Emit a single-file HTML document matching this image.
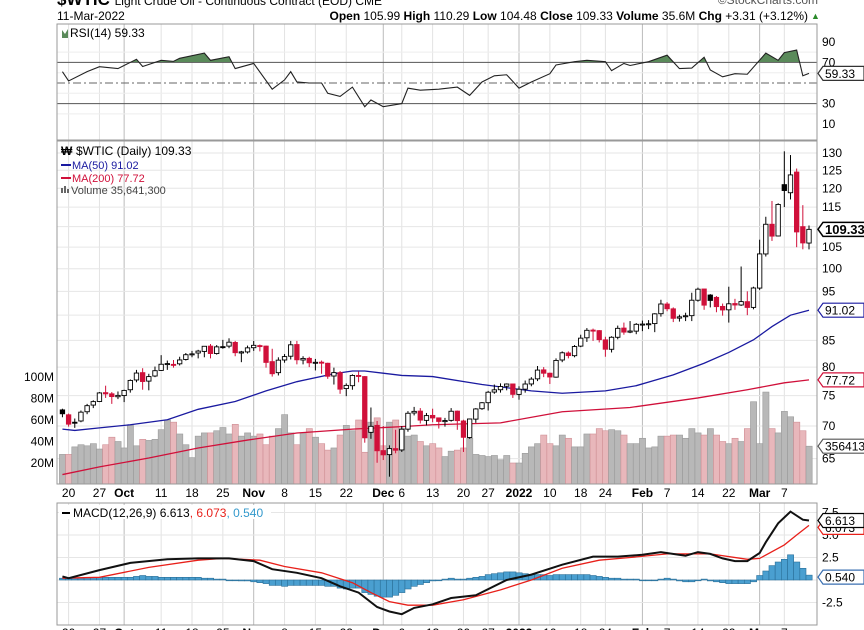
<!DOCTYPE html>
<html><head><meta charset="utf-8"><style>
html,body{margin:0;padding:0;background:#fff;}
svg{display:block;font-family:"Liberation Sans",sans-serif;}
</style></head><body>
<svg id="chart" width="864" height="630" viewBox="0 0 864 630" xmlns="http://www.w3.org/2000/svg">
<defs>
<clipPath id="clipMain"><rect x="57" y="141" width="760" height="343"/></clipPath>
<clipPath id="clipRsi"><rect x="57" y="24" width="760" height="116"/></clipPath>
<clipPath id="clipAbove70"><rect x="57" y="24" width="760" height="38"/></clipPath>
<clipPath id="clipMacd"><rect x="57" y="503" width="760" height="120"/></clipPath>
</defs>
<g id="header">
<text x="57" y="5" font-size="17" font-weight="bold">$WTIC <tspan font-size="12" font-weight="normal">Light Crude Oil - Continuous Contract (EOD) CME</tspan></text>
<text x="818" y="4" font-size="12" fill="#555" text-anchor="end">©StockCharts.com</text>
<text x="57" y="20" font-size="12">11-Mar-2022</text>
<text x="808" y="20" font-size="12" text-anchor="end"><tspan font-weight="bold">Open</tspan> 105.99 <tspan font-weight="bold">High</tspan> 110.29 <tspan font-weight="bold">Low</tspan> 104.48 <tspan font-weight="bold">Close</tspan> 109.33 <tspan font-weight="bold">Volume</tspan> 35.6M <tspan font-weight="bold">Chg</tspan> +3.31 (+3.12%)</text>
<text x="811" y="19" font-size="9" fill="#2a8a2a">▲</text>
</g>
<g id="grid"></g>
<g id="rsiLayer" clip-path="url(#clipRsi)"></g>
<g id="mainLayer" clip-path="url(#clipMain)"></g>
<g id="macdLayer" clip-path="url(#clipMacd)"></g>
<rect x="57" y="24" width="760" height="116" fill="none" stroke="#999"/>
<rect x="57" y="141" width="760" height="343" fill="none" stroke="#999"/>
<rect x="57" y="503" width="760" height="122" fill="none" stroke="#999"/>
<g id="labels"></g>
<g>
<path d="M62 38 L62 30 L65 34 L68 29 L68 38 Z" fill="#5a8a5a"/>
<text x="70" y="37" font-size="12">RSI(14) 59.33</text>
</g>
<g>
<text x="61" y="155" font-size="12" font-weight="bold">₩</text>
<text x="76" y="155" font-size="12">$WTIC (Daily) 109.33</text>
<line x1="61" y1="165" x2="71" y2="165" stroke="#1a1aa0" stroke-width="2"/>
<text x="72" y="169" font-size="11" fill="#1a1aa0">MA(50) 91.02</text>
<line x1="61" y1="178" x2="71" y2="178" stroke="#d0103a" stroke-width="2"/>
<text x="72" y="182" font-size="11" fill="#d0103a">MA(200) 77.72</text>
<rect x="61" y="188" width="2" height="5" fill="#666"/><rect x="64" y="186" width="2" height="7" fill="#666"/><rect x="67" y="189" width="2" height="4" fill="#666"/>
<text x="71" y="194" font-size="11" fill="#444">Volume 35,641,300</text>
</g>
<g>
<rect x="59" y="505" width="212" height="14" fill="#fff"/>
<line x1="62" y1="513" x2="70" y2="513" stroke="#000" stroke-width="2"/>
<text x="73" y="517" font-size="12">MACD(12,26,9) 6.613<tspan fill="#e8201a">, 6.073</tspan><tspan fill="#3399cc">, 0.540</tspan></text>
</g>
</svg>
<script>
// ---- data (index 0 = 17-Sep-2021 ... 121 = 11-Mar-2022) ----
const opens=[72.6,71.8,70.6,70.8,72.3,73.4,74.0,75.5,75.3,74.8,75.0,76.0,77.7,79.0,77.5,78.4,79.4,80.6,80.5,80.6,81.4,82.3,82.6,82.9,83.9,82.5,83.8,83.9,84.6,82.6,82.8,83.6,84.0,83.9,81.0,79.0,81.3,82.0,84.2,81.3,81.6,80.8,80.9,80.7,78.4,79.0,76.2,76.7,78.5,78.3,69.0,70.1,66.2,65.6,66.5,66.3,69.5,72.1,72.4,70.9,71.7,71.3,70.7,70.9,72.4,70.8,68.2,71.1,72.8,73.8,75.6,76.0,76.6,77.0,75.2,76.1,77.0,77.9,79.5,78.9,78.2,81.3,82.6,82.1,83.9,85.5,87.0,86.9,85.1,83.3,85.6,87.4,86.6,86.8,88.2,88.2,88.3,90.3,92.3,91.3,89.4,89.7,89.9,93.1,95.5,94.2,93.7,91.8,91.1,92.4,92.1,92.8,91.6,95.7,103.4,110.6,107.7,121.0,118.8,124.5,110.0,105.99];
const highs=[72.8,72.0,71.2,72.5,73.6,74.2,75.6,76.7,75.6,75.7,76.0,77.8,79.5,79.8,78.8,80.1,82.2,81.2,81.3,81.9,82.6,83.0,83.2,83.9,84.3,84.1,85.1,85.4,84.9,83.0,84.0,84.9,84.2,84.0,83.4,81.8,82.4,84.9,84.9,82.0,81.9,81.5,81.2,80.8,79.9,79.3,77.1,78.7,79.2,78.4,73.0,70.8,70.0,67.0,69.4,70.0,72.4,73.1,72.9,72.1,72.8,71.3,71.3,72.9,72.5,71.0,71.2,72.9,73.9,75.8,76.9,77.1,77.1,77.0,76.6,77.6,78.2,80.2,80.0,79.0,81.6,82.9,82.9,84.1,86.1,87.4,87.3,87.0,85.7,85.8,87.9,88.5,88.8,88.4,88.9,89.0,90.4,93.2,92.7,91.6,90.1,90.5,94.7,95.8,95.5,94.4,94.0,92.4,96.0,93.4,100.5,95.0,96.0,106.8,112.5,116.6,116.0,130.5,129.4,125.5,115.5,110.29];
const lows=[71.4,69.9,69.7,70.6,71.9,72.9,73.9,74.6,73.6,74.4,73.9,75.5,77.3,76.0,75.9,78.2,79.3,79.5,79.9,80.3,81.2,81.8,81.6,81.8,81.6,82.3,83.4,83.5,82.0,80.9,82.5,83.0,82.9,79.9,78.3,78.5,80.8,81.4,80.5,80.5,80.0,79.4,78.8,77.9,76.9,75.3,74.9,76.0,77.3,67.4,68.0,64.4,64.8,62.4,65.8,66.0,69.1,71.7,70.4,70.1,70.6,69.6,69.9,70.7,69.4,66.0,68.0,70.5,72.6,72.5,75.3,75.5,75.9,74.6,74.3,75.5,76.6,77.5,78.2,77.0,78.1,80.9,81.6,81.8,83.7,84.7,84.9,84.6,81.9,82.7,85.2,86.1,86.4,86.2,86.8,87.2,86.6,89.7,90.8,88.6,88.7,88.8,88.8,92.8,91.1,91.6,90.6,89.9,88.5,91.1,91.9,90.0,91.2,95.3,102.8,106.5,107.6,115.0,117.0,105.0,104.5,104.48];
const closes=[71.97,70.29,70.56,72.23,73.30,73.98,75.45,75.29,74.83,75.03,75.88,77.62,78.93,77.43,78.30,79.35,80.52,80.64,80.44,81.31,82.28,82.44,82.96,83.87,82.50,83.76,83.76,84.65,82.66,82.81,83.57,84.05,83.91,80.86,78.81,81.27,81.93,84.15,81.34,81.59,80.79,80.88,80.76,78.36,79.01,76.10,76.75,78.50,78.39,68.15,69.95,66.18,65.57,66.50,66.26,69.49,72.05,72.36,70.94,71.67,71.29,70.73,70.87,72.38,70.86,68.23,71.12,72.76,73.79,75.57,75.98,76.56,76.99,75.21,76.08,76.99,77.85,79.46,78.90,78.23,81.22,82.64,82.12,83.82,85.43,86.96,86.90,85.14,83.31,85.60,87.35,86.61,86.82,88.15,88.20,88.26,90.27,92.31,91.32,89.36,89.66,89.88,93.10,95.46,92.07,93.06,91.76,91.07,92.35,92.10,92.81,91.59,95.72,103.41,110.60,107.67,115.68,119.40,123.70,108.70,106.02,109.33];
const volumes=[28,28,35,37,36,38,33,37,44,40,34,55,36,42,41,42,51,60,58,47,37,25,45,48,48,50,53,47,56,45,48,45,47,37,45,52,65,48,37,48,52,44,38,32,34,46,55,50,60,30,58,62,36,58,60,52,45,46,40,36,38,34,26,31,32,34,43,28,27,26,27,23,27,20,20,29,35,38,46,38,36,46,43,35,35,47,47,52,50,51,50,46,38,38,43,34,35,45,45,46,46,43,52,48,46,52,46,40,38,43,40,52,77,38,86,52,48,68,63,58,50,35.64];
const ma50Idx=[0,2,6,11,17,22,28,33,38,44,47,49,55,60,68,76,81,88,93,99,104,108,112,115,118,121];
const ma50Vals=[69.5,69.3,69.7,70.2,71.0,72.7,74.0,75.8,77.4,78.8,79.3,79.3,78.5,78.3,76.9,75.8,75.4,75.8,76.7,78.6,80.7,82.7,85.1,87.7,90.0,91.02];
const ma200Idx=[0,6,14,22,30,38,47,55,60,71,81,92,103,111,117,121];
const ma200Vals=[62.7,63.8,65.1,66.6,67.8,68.9,69.5,69.9,70.2,70.5,72.3,73.0,74.6,76.0,77.2,77.72];
const rsiIdx=[0,1,4,6,9,12,13,16,18,19,23,24,27,28,31,34,36,37,38,40,42,43,45,47,49,50,52,55,56,58,61,64,66,68,70,72,74,76,79,80,83,85,88,89,91,92,95,98,100,102,104,105,107,109,111,114,116,117,119,120,121];
const rsiVals=[61,52,61,65.8,64,73,66,72,71,74,79,72,75.5,64,69,44,53,61,51,50,50,40,37,46,27,33.5,27,30,45,43,44,46,38,51,57,58,45,51,59,67.5,70.7,72,70.7,62,69,67,70.7,77,64,64.5,75,62.6,56,59,58.5,79,72,79.5,82,57,59.33];
const macdIdx=[0,1,6,11,17,22,27,31,34,38,42,45,48,51,53,55,57,60,63,67,72,76,81,86,90,94,97,101,103,105,107,109,111,113,114,116,118,120,121];
const macdVals=[0.4,0.2,1.1,1.9,2.3,2.4,2.4,2.1,1.2,0.8,0.2,-0.7,-1.4,-3.0,-3.5,-3.8,-3.1,-2.7,-2.0,-1.7,0.0,0.6,1.7,2.6,2.6,2.8,3.1,2.7,3.1,2.9,2.4,2.1,2.1,3.0,4.2,6.3,7.6,6.7,6.613];
const signalIdx=[0,6,14,22,26,32,36,42,47,50,53,56,60,65,71,76,81,87,92,98,105,111,113,117,119,121];
const signalVals=[0.2,0.3,1.4,2.2,2.4,2.2,1.5,0.8,-0.3,-1.4,-2.4,-2.8,-2.8,-2.2,-1.1,0.0,1.3,2.2,2.5,2.9,2.9,2.3,2.4,3.9,5.0,6.073];
const histVals=[0.2,0.2,0.2,0.2,0.3,0.3,0.3,0.3,0.3,0.3,0.3,0.3,0.4,0.5,0.4,0.4,0.3,0.3,0.3,0.3,0.3,0.3,0.3,0.2,0.2,0.1,0.1,0.0,0.0,-0.1,-0.1,-0.2,-0.3,-0.4,-0.6,-0.6,-0.7,-0.6,-0.6,-0.6,-0.6,-0.6,-0.6,-0.7,-0.7,-0.9,-1.0,-0.9,-0.9,-1.4,-1.6,-1.8,-1.9,-1.9,-1.7,-1.4,-1.0,-0.7,-0.5,-0.3,-0.1,0.0,0.1,0.2,0.1,0.1,0.2,0.3,0.4,0.6,0.7,0.8,0.9,0.9,0.8,0.7,0.6,0.6,0.6,0.5,0.6,0.6,0.6,0.6,0.6,0.6,0.5,0.4,0.3,0.2,0.2,0.1,0.1,0.1,0.0,0.0,0.0,0.1,0.2,0.1,-0.1,-0.2,-0.2,0.0,0.1,-0.1,-0.2,-0.3,-0.4,-0.4,-0.4,-0.4,-0.2,0.5,1.0,1.6,2.0,2.3,2.8,2.0,1.3,0.54];
const tickIdx=[1,6,10,16,21,26,31,36,41,46,52,55,60,65,69,74,79,84,88,94,98,103,108,113,117];
const tickLabels=["20","27","Oct","11","18","25","Nov","8","15","22","Dec","6","13","20","27","2022","10","18","24","Feb","7","14","22","Mar","7"];
const monthTickIdx=[10,31,52,74,94,113];
const priceTicks=[130,125,120,115,105,100,95,85,80,75,70,65];
const priceGrid=[130,125,120,115,110,105,100,95,90,85,80,75,70,65];
const volTicks=[100,80,60,40,20];
const rsiTicks=[90,70,30,10];
const macdTicks=[7.5,5.0,2.5,-2.5];

// ---- axes ----
const LAST=121, XR=809, STEP=6.17;
const xOf=i=>XR-(LAST-i)*STEP;
const LNTOP=Math.log(130);
const yP=v=>153+(LNTOP-Math.log(v))*441;
const yV=v=>484.5-v*1.075;
const yR=v=>83+(50-v)*1.03;
const yM=v=>580-v*9;
const NS="http://www.w3.org/2000/svg";
function mk(tag,attrs,parent){const e=document.createElementNS(NS,tag);for(const k in attrs)e.setAttribute(k,attrs[k]);parent.appendChild(e);return e;}
const grid=document.getElementById('grid'),main=document.getElementById('mainLayer'),rsiL=document.getElementById('rsiLayer'),macdL=document.getElementById('macdLayer'),labels=document.getElementById('labels');

const panels=[[24,140],[141,484],[503,625]];
tickIdx.forEach(i=>{const isM=monthTickIdx.includes(i);panels.forEach(p=>{const l=mk('line',{x1:xOf(i),x2:xOf(i),y1:p[0],y2:p[1],stroke:isM?'#bbb':'#e2e2e2','stroke-width':1},grid);

});});
priceGrid.forEach(v=>{const l=mk('line',{x1:57,x2:817,y1:yP(v),y2:yP(v),stroke:'#e6e6e6'},grid);

});
[80,60,40,20].forEach(v=>{const l=mk('line',{x1:57,x2:817,y1:yR(v),y2:yR(v),stroke:'#eee'},grid);

});
[7.5,5,2.5,0,-2.5].forEach(v=>{const l=mk('line',{x1:57,x2:817,y1:yM(v),y2:yM(v),stroke:'#e6e6e6'},grid);

});

volumes.forEach((v,i)=>{const down=i>0&&closes[i]<closes[i-1];const b=mk('rect',{x:xOf(i)-3,y:yV(v),width:6.17,height:484.5-yV(v),fill:down?'#e8b7bb':'#b8b8b8',stroke:down?'#cf8e94':'#999','stroke-width':0.6},main);

});

function pl(idx,vals,yf,color,name,parent,w){const pts=idx.map((d,k)=>xOf(d)+','+yf(vals[k])).join(' ');const p=mk('polyline',{points:pts,fill:'none',stroke:color,'stroke-width':w||1.3},parent);

return p;}
pl(ma200Idx,ma200Vals,yP,'#d0103a','ma200-line',main);
pl(ma50Idx,ma50Vals,yP,'#1a1aa0','ma50-line',main);

closes.forEach((c,i)=>{const o=opens[i],h=highs[i],l=lows[i];const down=i>0&&c<closes[i-1];const col=down?'#d0103a':'#000';const x=xOf(i);
const w=mk('line',{x1:x,x2:x,y1:yP(h),y2:yP(l),stroke:col,'stroke-width':1},main);


const top=yP(Math.max(o,c)),bot=yP(Math.min(o,c));
const b=mk('rect',{x:x-2.2,y:top,width:4.4,height:Math.max(1,bot-top),fill:c>=o?'#fff':col,stroke:col,'stroke-width':0.9},main);

});

[70,30].forEach(v=>{const l=mk('line',{x1:57,x2:817,y1:yR(v),y2:yR(v),stroke:'#555','stroke-width':1},rsiL);

});
const mid=mk('line',{x1:57,x2:817,y1:yR(50),y2:yR(50),stroke:'#666','stroke-dasharray':'8 3 2 3'},rsiL);


const rp=rsiIdx.map((d,k)=>xOf(d)+','+yR(rsiVals[k]));
const fillPts=[xOf(rsiIdx[0])+','+yR(70)].concat(rp,[xOf(rsiIdx[rsiIdx.length-1])+','+yR(70)]).join(' ');
const rf=mk('polygon',{points:fillPts,fill:'#5a8a5a','clip-path':'url(#clipAbove70)'},rsiL);


pl(rsiIdx,rsiVals,yR,'#222','rsi-line',rsiL,1.1);

histVals.forEach((v,i)=>{const y0=yM(0),y1=yM(v);const b=mk('rect',{x:xOf(i)-3,y:Math.min(y0,y1),width:6.17,height:Math.max(0.8,Math.abs(y1-y0)),fill:'#4a9fd0',stroke:'#2a6f98','stroke-width':0.6},macdL);

});
pl(signalIdx,signalVals,yM,'#e8201a','macd-signal-line',macdL,1.3);
pl(macdIdx,macdVals,yM,'#111','macd-line',macdL,2);

function txt(x,y,s,attrs,name){const t=mk('text',Object.assign({x:x,y:y,'font-size':12},attrs||{}),labels);t.textContent=s;

return t;}
tickIdx.forEach((d,k)=>{const bold=monthTickIdx.includes(d)||tickLabels[k]==='2022';
txt(xOf(d),497,tickLabels[k],{'text-anchor':'middle','font-weight':bold?'bold':'normal'},'x-tick-label');
txt(xOf(d),637,tickLabels[k],{'text-anchor':'middle','font-weight':bold?'bold':'normal'},'x-tick-label-bottom');});
priceTicks.forEach(v=>txt(822,yP(v)+4,String(v),{},'price-tick-label'));
volTicks.forEach(v=>txt(54,yV(v)+4,v+'M',{'text-anchor':'end'},'volume-tick-label'));
rsiTicks.forEach(v=>txt(822,yR(v)+4,String(v),{},'rsi-tick-label'));
macdTicks.forEach(v=>txt(822,yM(v)+4,v.toFixed(1),{},'macd-tick-label'));

function tag(y,s,color,bold,name){const w=s.length*7+6;const g=mk('g',{},labels);


mk('path',{d:`M818 ${y} L823 ${y-7} L${823+w} ${y-7} L${823+w} ${y+7} L823 ${y+7} Z`,fill:'#fff',stroke:color,'stroke-width':bold?1.5:1.2},g);
const t=mk('text',{x:825,y:y+4.5,'font-size':bold?13:12,'font-weight':bold?'bold':'normal',fill:'#000'},g);t.textContent=s;}
tag(yR(59.33),'59.33','#333',false,'rsi-value-tag');
tag(yP(closes[LAST]),'109.33','#000',true,'close-price-tag');
tag(yP(ma50Vals[ma50Vals.length-1]),'91.02','#1a1aa0',false,'ma50-value-tag');
tag(yP(ma200Vals[ma200Vals.length-1]),'77.72','#d0103a',false,'ma200-value-tag');
tag(yV(volumes[LAST]),'356413','#555',false,'volume-value-tag');
tag(yM(signalVals[signalVals.length-1])+2,'6.073','#e8201a',false,'signal-value-tag');
tag(yM(macdVals[macdVals.length-1]),'6.613','#000',false,'macd-value-tag');
tag(yM(histVals[LAST])+2,'0.540','#3a6fb0',false,'histogram-value-tag');
</script>
</body></html>
